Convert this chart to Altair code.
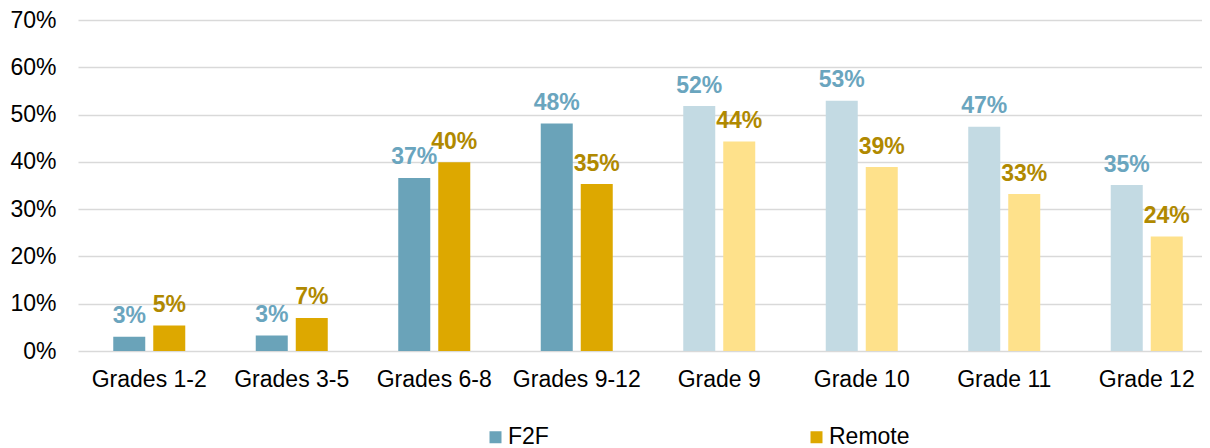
import altair as alt
import pandas as pd

categories = ["Grades 1-2", "Grades 3-5", "Grades 6-8", "Grades 9-12",
              "Grade 9", "Grade 10", "Grade 11", "Grade 12"]
group = ["Grade band"] * 4 + ["Single grade"] * 4
series_names = ["F2F", "Remote"]
f2f = [0.030, 0.033, 0.366, 0.481, 0.518, 0.529, 0.474, 0.351]
remote = [0.054, 0.070, 0.399, 0.353, 0.443, 0.389, 0.332, 0.242]
y_ticks = [0, 0.1, 0.2, 0.3, 0.4, 0.5, 0.6, 0.7]

rows = []
for i, c in enumerate(categories):
    for s, vals in zip(series_names, [f2f, remote]):
        key = s if group[i] == "Grade band" else s + " (single grade)"
        rows.append({"category": c, "series": s, "value": vals[i], "key": key})
df = pd.DataFrame(rows)

keys = ["F2F", "Remote", "F2F (single grade)", "Remote (single grade)"]
key_colors = ["#6AA3B9", "#DDA800", "#C3DAE3", "#FEE18B"]
FONT = "Liberation Sans"

base = alt.Chart(df).encode(
    x=alt.X("category:N", sort=categories,
            scale=alt.Scale(range=[0, 1140], paddingInner=0.4947, paddingOuter=0.2474),
            axis=alt.Axis(title=None, labelAngle=0, ticks=False, domain=False, grid=False,
                          labelFontSize=23, labelPadding=17, labelColor="#000000",
                          labelOverlap=False, labelLimit=300, labelFont=FONT)),
    xOffset=alt.XOffset("series:N", sort=series_names,
                        scale=alt.Scale(paddingInner=0.2, paddingOuter=0)),
    y=alt.Y("value:Q", scale=alt.Scale(domain=[0, 0.7]),
            axis=alt.Axis(title=None, values=y_ticks, format=".0%", ticks=False, domain=False,
                          labelFontSize=23, labelPadding=22, labelColor="#000000",
                          labelFont=FONT, gridColor="#D9D9D9", gridWidth=1.5)),
)

bars = base.mark_bar().encode(
    color=alt.Color("key:N", scale=alt.Scale(domain=keys, range=key_colors),
                    legend=alt.Legend(values=["F2F", "Remote"], title=None, orient="none",
                                      legendX=406, legendY=405.5, direction="horizontal",
                                      symbolType="square", symbolSize=144, symbolStrokeWidth=0,
                                      labelFontSize=23, labelFont=FONT, labelColor="#000000",
                                      labelOffset=1, columnPadding=256, padding=0))
)

text = base.mark_text(baseline="alphabetic", dy=-13.5, fontSize=23, fontWeight="bold",
                      font=FONT).encode(
    text=alt.Text("value:Q", format=".0%"),
    color=alt.condition(alt.datum.series == "F2F", alt.value("#6AA5BE"), alt.value("#B08900")),
)

chart = alt.layer(bars, text).properties(
    width=1124, height=331,
    padding={"left": 70, "top": 12, "right": 0, "bottom": 97},
    autosize=alt.AutoSizeParams(type="none"),
).configure_view(stroke=None)

chart.save("out.html", embed_options={"renderer": "svg", "actions": False})
